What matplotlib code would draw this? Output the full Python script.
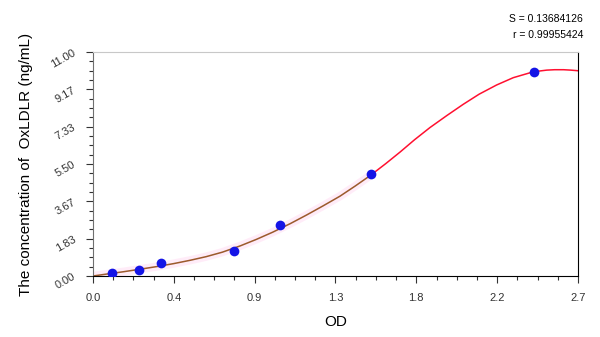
import numpy as np
from matplotlib import pyplot as plt
from matplotlib.ticker import AutoMinorLocator

# standards: OD vs concentration
od = [0.104, 0.256, 0.38, 0.783, 1.041, 1.546, 2.457]
conc = [0.156, 0.3125, 0.625, 1.25, 2.5, 5.0, 10.0]

# fitted curve
curve_x = [0.0, 0.08, 0.17, 0.26, 0.36, 0.45, 0.54, 0.63, 0.72, 0.82, 0.91, 1.0,
           1.1, 1.19, 1.28, 1.375, 1.46, 1.546, 1.63, 1.71, 1.79, 1.876, 1.97,
           2.061, 2.15, 2.247, 2.34, 2.433, 2.48, 2.526, 2.57, 2.62, 2.66, 2.7]
curve_y = [0.0, 0.1, 0.21, 0.33, 0.47, 0.61, 0.77, 0.95, 1.17, 1.48, 1.8, 2.15,
           2.58, 3.0, 3.44, 3.92, 4.42, 4.95, 5.52, 6.09, 6.69, 7.29, 7.88,
           8.43, 8.93, 9.38, 9.74, 9.98, 10.06, 10.11, 10.13, 10.13, 10.11, 10.08]
split_x = 1.546

xtick_vals = [0.0, 0.45, 0.9, 1.35, 1.8, 2.25, 2.7]
xtick_labels = ['0.0', '0.4', '0.9', '1.3', '1.8', '2.2', '2.7']
ytick_vals = [0.0, 11 / 6, 22 / 6, 5.5, 44 / 6, 55 / 6, 11.0]
ytick_labels = ['0.00', '1.83', '3.67', '5.50', '7.33', '9.17', '11.00']

plt.rcParams['font.family'] = ['Liberation Sans', 'DejaVu Sans']

fig = plt.figure(figsize=(6, 3.37), dpi=100)
ax = fig.add_axes([0.155, 0.181, 0.8083, 0.6647])

cx = np.array(curve_x)
cy = np.array(curve_y)
low = cx <= split_x
high = cx >= split_x

# faint pink halo along the lower part of the curve
ax.plot(cx[low], cy[low], color='#ff66cc', lw=6, alpha=0.12, solid_capstyle='butt')
ax.plot(cx[low], cy[low], color='#9c5a2c', lw=1.1)
ax.plot(cx[high], cy[high], color='#ff1030', lw=1.1)
ax.plot(od, conc, 'o', color='#1414e6', markersize=7, markeredgewidth=0, zorder=5)

ax.set_xlim(0, 2.7)
ax.set_ylim(0, 11)
ax.set_xticks(xtick_vals)
ax.set_xticklabels(xtick_labels, fontsize=8, color='#333333')
ax.set_yticks(ytick_vals)
ax.set_yticklabels(ytick_labels, fontsize=8, color='#333333',
                   rotation=30, ha='right', va='center', rotation_mode='anchor')
ax.xaxis.set_minor_locator(AutoMinorLocator(4))
ax.yaxis.set_minor_locator(AutoMinorLocator(4))
ax.tick_params(which='major', length=5, width=0.8, color='#333333')
ax.tick_params(which='minor', length=3, width=0.8, color='#333333')
ax.tick_params(axis='x', pad=7)
ax.tick_params(axis='y', pad=8)

ax.spines['top'].set_color('#c8c8c8')
ax.spines['left'].set_color('#707070')
ax.spines['right'].set_color('black')
ax.spines['bottom'].set_color('black')

ax.set_xlabel('OD', fontsize=11, labelpad=9)
ax.set_ylabel('The concentration of  OxLDLR (ng/mL)', fontsize=11, labelpad=12)

fig.text(0.972, 0.945, 'S = 0.13684126', fontsize=7.5, ha='right', va='center')
fig.text(0.972, 0.895, 'r = 0.99955424', fontsize=7.5, ha='right', va='center')

plt.savefig('out.png', dpi=100)
